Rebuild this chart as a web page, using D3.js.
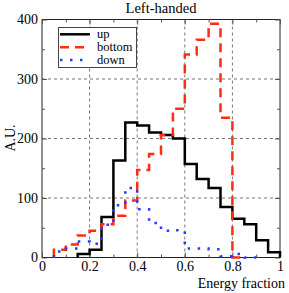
<!DOCTYPE html>
<html><head><meta charset="utf-8">
<script src="https://cdn.jsdelivr.net/npm/d3@7"></script>
<style>body{margin:0;background:#fff}svg{display:block}</style>
</head><body>
<script>
// ---- data ----
const binWidth = 0.05;
const upStart = 0.15;
const upValues = [6, 13, 68, 163, 227, 222, 210, 206, 200, 157, 132, 117, 85, 65, 56, 29, 9];
const bottomStart = 0.05;
const bottomValues = [13, 22, 37, 45, 56, 70, 96, 147, 174, 206, 250, 341, 366, 393, 235, 0];
const downStart = 0.05;
const downValues = [10, 15, 27, 23, 55, 88, 117, 81, 58, 45, 46, 15, 15, 14, 2, 6, 0];
const xTicks = [0, 0.2, 0.4, 0.6, 0.8, 1];
const xMinor = [0.1, 0.3, 0.5, 0.7, 0.9];
const yTicks = [0, 100, 200, 300, 400];
const yMinor = [50, 150, 250, 350];
const xGrid = [0.2, 0.4, 0.6, 0.8];
const yGrid = [100, 200, 300];
const seriesNames = ["up", "bottom", "down"];

const W = 289, H = 293;
const svg = d3.select("body").append("svg").attr("width", W).attr("height", H);
const x = d3.scaleLinear([0, 1], [42, 280]);
const y = d3.scaleLinear([0, 400], [257.5, 19.5]);
const font = "'Liberation Serif','Times New Roman',serif";

// grid
svg.append("g").selectAll("line").data(xGrid).join("line")
  .attr("x1", d => x(d)).attr("x2", d => x(d)).attr("y1", y(0)).attr("y2", y(400))
  .attr("stroke", "#777").attr("stroke-dasharray", "3,3");
svg.append("g").selectAll("line").data(yGrid).join("line")
  .attr("y1", d => y(d)).attr("y2", d => y(d)).attr("x1", x(0)).attr("x2", x(1))
  .attr("stroke", "#777").attr("stroke-dasharray", "3,3");

// frame
svg.append("rect").attr("x", x(0)).attr("y", y(400)).attr("width", x(1) - x(0)).attr("height", y(0) - y(400))
  .attr("fill", "none").attr("stroke", "#222").attr("stroke-width", 1);

// ticks (inward) on all sides
function styleAxis(g) {
  g.select(".domain").remove();
  g.selectAll(".tick line").attr("stroke", "#555");
  g.selectAll("text").attr("font-family", font).attr("font-size", 14).attr("fill", "#000");
}
svg.append("g").attr("transform", `translate(0,${y(0)})`)
  .call(d3.axisBottom(x).tickValues(xTicks).tickSize(-5).tickPadding(4).tickFormat(d => d === 0 || d === 1 ? d3.format("d")(d) : d3.format(".1f")(d)))
  .call(styleAxis);
svg.append("g").attr("transform", `translate(0,${y(0)})`)
  .call(d3.axisBottom(x).tickValues(xMinor).tickSize(-3).tickFormat("")).call(styleAxis);
svg.append("g").attr("transform", `translate(0,${y(400)})`)
  .call(d3.axisTop(x).tickValues(xTicks).tickSize(-5).tickFormat("")).call(styleAxis);
svg.append("g").attr("transform", `translate(0,${y(400)})`)
  .call(d3.axisTop(x).tickValues(xMinor).tickSize(-3).tickFormat("")).call(styleAxis);
svg.append("g").attr("transform", `translate(${x(0)},0)`)
  .call(d3.axisLeft(y).tickValues(yTicks).tickSize(-5).tickPadding(4)).call(styleAxis);
svg.append("g").attr("transform", `translate(${x(0)},0)`)
  .call(d3.axisLeft(y).tickValues(yMinor).tickSize(-3).tickFormat("")).call(styleAxis);
svg.append("g").attr("transform", `translate(${x(1)},0)`)
  .call(d3.axisRight(y).tickValues(yTicks).tickSize(-5).tickFormat("")).call(styleAxis);
svg.append("g").attr("transform", `translate(${x(1)},0)`)
  .call(d3.axisRight(y).tickValues(yMinor).tickSize(-3).tickFormat("")).call(styleAxis);

// histograms (step)
function stepPoints(start, vals) {
  const pts = [[start, 0]];
  vals.forEach((v, i) => {
    const a = start + i * binWidth, b = a + binWidth;
    pts.push([a, v], [b, v]);
  });
  pts.push([start + vals.length * binWidth, 0]);
  return pts;
}
const line = d3.line().x(d => x(d[0])).y(d => y(d[1]));
const series = [
  {name: seriesNames[0], start: upStart, vals: upValues, color: "#000", dash: null},
  {name: seriesNames[1], start: bottomStart, vals: bottomValues, color: "#ff2d10", dash: "9,6"},
  {name: seriesNames[2], start: downStart, vals: downValues, color: "#1f3cff", dash: "2.5,7.5"}
];
series.forEach(s => {
  svg.append("path").attr("d", line(stepPoints(s.start, s.vals)))
    .attr("fill", "none").attr("stroke", s.color).attr("stroke-width", 2.5)
    .attr("stroke-dasharray", s.dash).attr("stroke-linejoin", "miter");
});

// legend
const lg = svg.append("g");
lg.append("rect").attr("x", 58.5).attr("y", 27.5).attr("width", 78).attr("height", 40)
  .attr("fill", "#fff").attr("stroke", "#444");
series.forEach((s, i) => {
  const ly = 34.3 + i * 12.9;
  lg.append("line").attr("x1", 60).attr("x2", 90).attr("y1", ly).attr("y2", ly)
    .attr("stroke", s.color).attr("stroke-width", 2.5).attr("stroke-dasharray", s.dash);
  lg.append("text").attr("x", 97).attr("y", ly + 4).text(s.name)
    .attr("font-family", font).attr("font-size", 12.5);
});

// titles
svg.append("text").attr("x", 161).attr("y", 13).attr("text-anchor", "middle")
  .attr("font-family", font).attr("font-size", 14.5).text("Left-handed");
svg.append("text").attr("x", 285).attr("y", 288).attr("text-anchor", "end")
  .attr("font-family", font).attr("font-size", 14).text("Energy fraction");
svg.append("text").attr("transform", "translate(15,138) rotate(-90)").attr("text-anchor", "middle")
  .attr("font-family", font).attr("font-size", 14).text("A.U.");
</script>
</body></html>
